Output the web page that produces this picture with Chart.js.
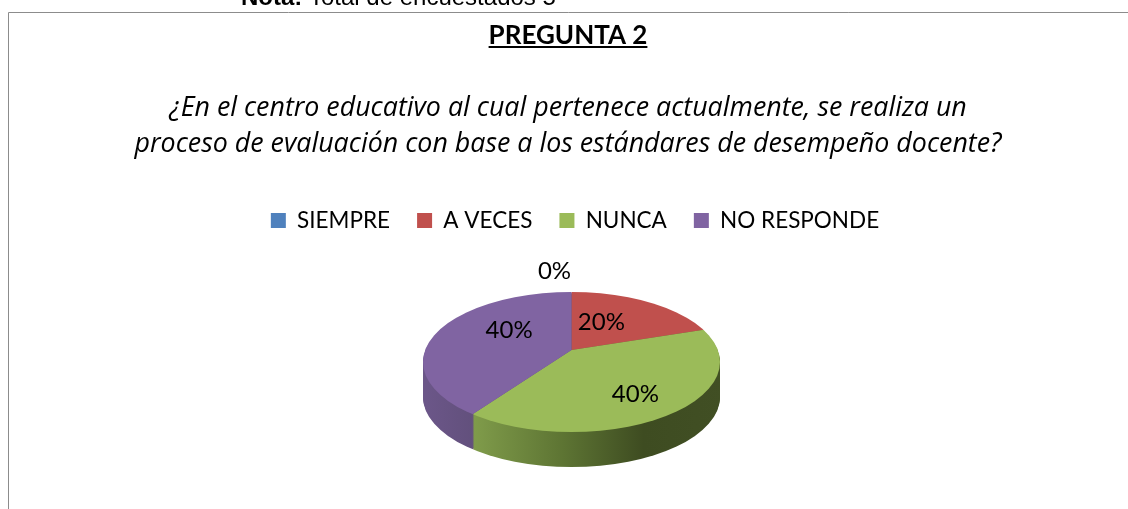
<!DOCTYPE html>
<html>
<head>
<meta charset="utf-8">
<style>html,body{margin:0;padding:0;background:#fff;overflow:hidden}#w{width:1128px;height:509px;position:relative}</style>
<script src="https://cdn.jsdelivr.net/npm/chart.js@4"></script>
</head>
<body>
<div id="w"><canvas id="c" width="1128" height="509"></canvas></div>
<script>
const categories = ['SIEMPRE', 'A VECES', 'NUNCA', 'NO RESPONDE'];
const respondents = [0, 1, 2, 2];
const sliceColors = ['#4F81BD', '#C0504D', '#9BBB59', '#8064A2'];
const titleText = 'PREGUNTA 2';
const questionLines = [
  '¿En el centro educativo al cual pertenece actualmente, se realiza un',
  'proceso de evaluación con base a los estándares de desempeño docente?'
];
const noteBold = 'Nota:';
const noteText = ' Total de encuestados 5';
const FONT = 'Lato, Carlito, sans-serif';

const view = { cx: 571.5, apexY: 350, ey: 362, rx: 148.5, ry: 70, depth: 35, k: 70 / 148.5 };
const labelNudge = [[-17, -34], [-26, 8.5], [8, 8.5], [28, -6]];

function drawSlices(ctx, chart, dy, fills) {
  const meta = chart.getDatasetMeta(0);
  ctx.save();
  ctx.beginPath();
  ctx.ellipse(view.cx, view.ey + dy, view.rx, view.ry, 0, 0, Math.PI * 2);
  ctx.clip();
  meta.data.forEach((arc, i) => {
    if (!respondents[i]) return;
    ctx.save();
    ctx.translate(view.cx, view.apexY + dy);
    ctx.scale(1, view.k);
    ctx.translate(-arc.x, -arc.y);
    const shim = Object.create(arc);
    shim.options = Object.assign({}, arc.options, { backgroundColor: fills[i], borderWidth: 0 });
    shim.draw(ctx);
    ctx.restore();
  });
  ctx.restore();
}

const tiltedPie = {
  id: 'tiltedPie',
  afterLayout(chart) {
    chart.legend.left += 7;
    chart.legend.right += 7;
  },
  beforeDatasetsDraw(chart) {
    const ctx = chart.ctx;
    const l = view.cx - view.rx, r = view.cx + view.rx, w = r - l;
    const g = (stops) => {
      const gr = ctx.createLinearGradient(l, 0, r, 0);
      stops.forEach(s => gr.addColorStop((s[0] - l) / w, s[1]));
      return gr;
    };
    const side = [
      '#3D4A96',
      '#7A3230',
      g([[l, '#7F9B4A'], [471, '#7F9B4A'], [560, '#5D7433'], [640, '#3E4C21'], [r, '#414F24']]),
      g([[l, '#6B5688'], [471, '#62507C'], [r, '#62507C']])
    ];
    for (let d = view.depth; d >= 1; d--) drawSlices(ctx, chart, d, side);
    drawSlices(ctx, chart, 0, sliceColors);
    return false;
  },
  afterDraw(chart) {
    const ctx = chart.ctx;
    ctx.save();
    // frame
    ctx.strokeStyle = '#8c8c8c';
    ctx.lineWidth = 1;
    ctx.beginPath();
    ctx.moveTo(8.5, 509); ctx.lineTo(8.5, 12.5); ctx.lineTo(1128, 12.5);
    ctx.stroke();
    // note clipped at the top edge
    ctx.fillStyle = '#000';
    ctx.textBaseline = 'alphabetic';
    ctx.textAlign = 'left';
    ctx.font = 'bold 24px "Liberation Sans"';
    ctx.fillText(noteBold, 241, 5);
    const nw = ctx.measureText(noteBold).width;
    ctx.font = '24px "Liberation Sans"';
    ctx.fillText(noteText, 241 + nw, 5);
    // title underline
    const tb = chart.titleBlock;
    ctx.font = 'bold 26px ' + FONT;
    const tw = ctx.measureText(titleText).width;
    const mid = (tb.left + tb.right) / 2;
    ctx.fillRect(mid - tw / 2, 46, tw, 2);
    // percentage labels
    const total = respondents.reduce((a, b) => a + b, 0);
    ctx.font = '24px ' + FONT;
    ctx.textAlign = 'center';
    ctx.textBaseline = 'middle';
    chart.getDatasetMeta(0).data.forEach((arc, i) => {
      const p = arc.getCenterPoint();
      const x = view.cx + (p.x - arc.x) + labelNudge[i][0];
      const y = view.apexY + (p.y - arc.y) * view.k + labelNudge[i][1];
      ctx.fillText(Math.round(respondents[i] / total * 100) + '%', x, y);
    });
    ctx.restore();
  }
};

new Chart(document.getElementById('c'), {
  type: 'pie',
  data: {
    labels: categories,
    datasets: [{ data: respondents, backgroundColor: sliceColors, borderWidth: 0, radius: 190 }]
  },
  plugins: [tiltedPie],
  options: {
    responsive: false,
    animation: false,
    layout: { padding: { left: 8, right: 0, top: 20, bottom: 20 } },
    plugins: {
      tooltip: { enabled: false },
      title: {
        display: true, text: titleText, color: '#000',
        font: { family: FONT, size: 26, weight: 'bold' },
        padding: { top: 0, bottom: 39 }
      },
      subtitle: {
        display: true, text: questionLines, color: '#000',
        font: { family: '"Open Sans", sans-serif', size: 26.8, style: 'italic', lineHeight: 1.343 },
        padding: { top: 0, bottom: 20 }
      },
      legend: {
        display: true, position: 'top',
        labels: { color: '#000', boxWidth: 15, boxHeight: 15, padding: 27, font: { family: FONT, size: 22.5 } }
      }
    }
  }
});
</script>
</body>
</html>
